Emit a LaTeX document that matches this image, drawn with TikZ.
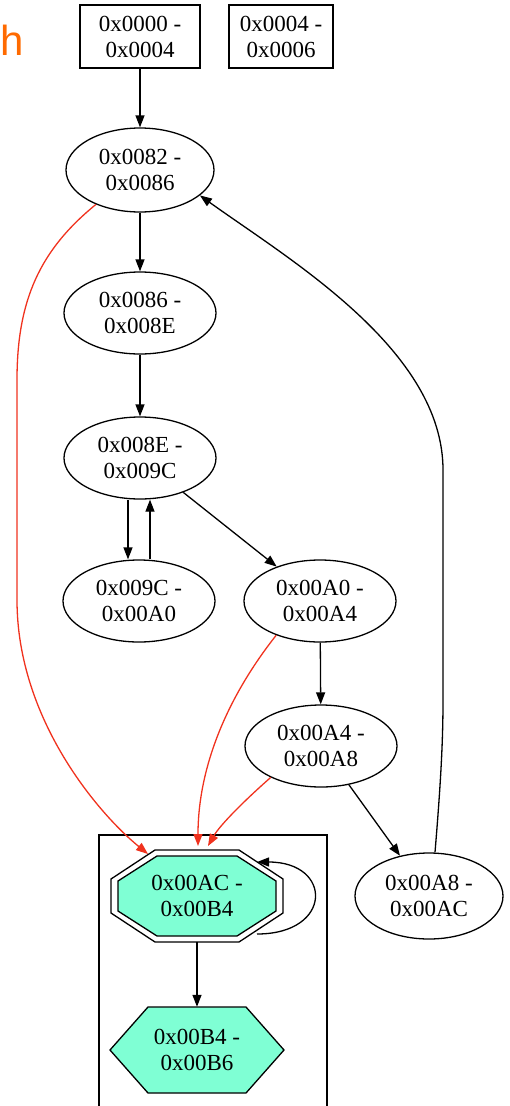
\documentclass[tikz,border=0pt]{standalone}
\usepackage{fontspec}
\setmainfont{Liberation Serif}
\newfontfamily\hfont{Liberation Sans}
\usetikzlibrary{arrows.meta,calc,shapes.geometric}
\definecolor{aqua}{RGB}{127,255,212}
\definecolor{edgered}{RGB}{240,50,30}
\definecolor{hor}{RGB}{255,106,0}
\begin{document}
\begin{tikzpicture}[x=1pt,y=-1pt,
  lbl/.style={font=\fontsize{23}{26}\selectfont, align=center, inner sep=0pt},
  blk/.style={draw, line width=1.3pt, ellipse, minimum width=152pt, minimum height=82pt, lbl},
  bx/.style={draw, line width=1.3pt, rectangle, minimum height=63pt, lbl},
  arr/.style={line width=1.3pt, -{Triangle[length=12pt,width=9pt]}},
  redarr/.style={arr, draw=edgered},
  shp/.style={line width=1.3pt}]
\useasboundingbox (0,0) rectangle (510,1106);

% cluster
\draw[line width=1.2pt] (99,1112) -- (99,835) -- (327,835) -- (327,1112);

% orange fragment
\node[font=\hfont\fontsize{42}{42}\selectfont, text=hor, anchor=base west, inner sep=0pt] (h) at (0,55) {h};

% nodes
\node[bx, minimum width=120pt] (A) at (140,36.5) {0x0000 -\\0x0004};
\node[bx, minimum width=104pt] (B) at (281,36.5) {0x0004 -\\0x0006};
\node[blk, minimum width=148pt, minimum height=84pt] (e82) at (140,170) {0x0082 -\\0x0086};
\node[blk] (e86) at (140,313) {0x0086 -\\0x008E};
\node[blk] (e8E) at (140,458) {0x008E -\\0x009C};
\node[blk] (e9C) at (139,601) {0x009C -\\0x00A0};
\node[blk] (eA0) at (320,601) {0x00A0 -\\0x00A4};
\node[blk] (eA4) at (321,746) {0x00A4 -\\0x00A8};
\node[blk, minimum width=148pt, minimum height=86pt] (eA8) at (429,896) {0x00A8 -\\0x00AC};

% octagon (double periphery)
\coordinate (octc) at (197,896);
\begin{scope}[shift={(octc)}]
\draw[shp, fill=white] (-42,-46) -- (42,-46) -- (86,-17) -- (86,17) -- (42,46) -- (-42,46) -- (-86,17) -- (-86,-17) -- cycle;
\draw[shp, fill=aqua] (-40,-40) -- (40,-40) -- (79,-15) -- (79,15) -- (40,40) -- (-40,40) -- (-79,15) -- (-79,-15) -- cycle;
\end{scope}
\node[lbl, minimum width=172pt, minimum height=92pt] (oct) at (octc) {0x00AC -\\0x00B4};

% hexagon
\coordinate (hexc) at (197,1050);
\begin{scope}[shift={(hexc)}]
\draw[shp, fill=aqua] (-49,-43) -- (49,-43) -- (87,0) -- (49,43) -- (-49,43) -- (-87,0) -- cycle;
\end{scope}
\node[lbl, minimum width=174pt, minimum height=86pt] (hex) at (hexc) {0x00B4 -\\0x00B6};

% black edges
\draw[arr] (A) -- (e82);
\draw[arr] (e82) -- (e86);
\draw[arr] (e86) -- (e8E);
\draw[arr] ($(e8E.south)+(-12,0)$) -- ($(e9C.north)+(-11,0)$);
\draw[arr] ($(e9C.north)+(11,0)$) -- ($(e8E.south)+(10,0)$);
\draw[arr] (e8E) -- (eA0);
\draw[arr] (eA0) -- (eA4);
\draw[arr] (eA4) -- (eA8);
\draw[arr] ($(eA8.north)+(6,0)$) .. controls (441,780) and (443,740) .. (443,700) -- (443,470) .. controls (443,350) and (290,260) .. (e82.-23);
\draw[arr] ($(octc)+(60,38)$) .. controls +(76,0) and +(76,0) .. ($(octc)+(60,-34)$);
\draw[arr] (oct.south) -- (hex.north);

% red edges
\draw[redarr] (e82.218) .. controls (40,250) and (17,300) .. (17,380) -- (17,600) .. controls (17,720) and (100,815) .. ($(octc)+(-49,-42)$);
\draw[redarr] (eA0.218) .. controls (225,700) and (198,770) .. ($(octc)+(1,-50)$);
\draw[redarr] (eA4.212) .. controls (245,800) and (220,825) .. ($(octc)+(11,-50)$);
\end{tikzpicture}
\end{document}
